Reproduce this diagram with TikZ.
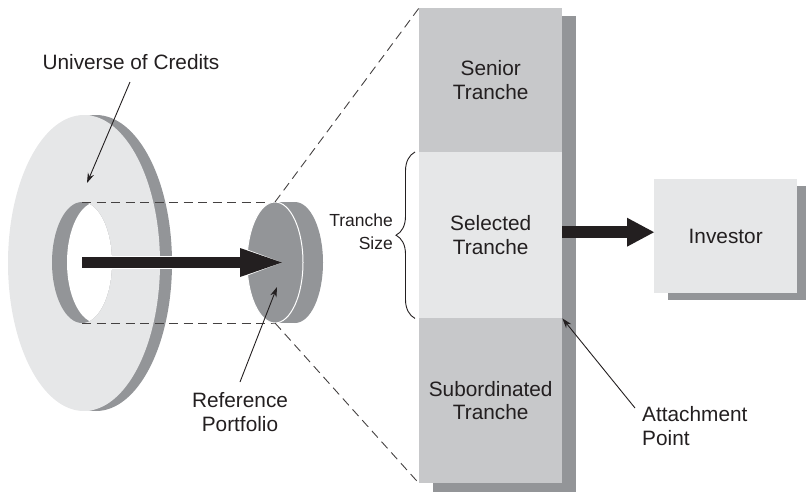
\documentclass[tikz,border=0pt]{standalone}
\usepackage{fontspec}
\setmainfont{Liberation Sans}
\usetikzlibrary{arrows.meta,decorations.pathreplacing}

\definecolor{facelight}{HTML}{E6E7E8}
\definecolor{facemid}{HTML}{C7C8CA}
\definecolor{facedark}{HTML}{939598}
\definecolor{ink}{HTML}{231F20}

\tikzset{
  lbl/.style={inner sep=0pt, align=center, text=ink, font=\fontsize{20.8}{23.5}\selectfont},
  smalllbl/.style={inner sep=0pt, align=right, text=ink, font=\fontsize{17.5}{23}\selectfont},
  guide/.style={draw=ink!85, line width=0.9pt, dash pattern=on 9pt off 5.5pt},
  ptr/.style={draw=ink, line width=0.9pt, -{Stealth[length=10pt,width=6.5pt]}},
  bigarrow/.style={draw=ink, line width=11pt,
    -{Triangle[length=42pt,width=29pt,line width=0pt]}},
  bigarrowrim/.style={draw=white, line width=13pt,
    -{Triangle[length=44pt,width=33pt,line width=0pt]}},
  outarrow/.style={draw=ink, line width=12pt,
    -{Triangle[length=27pt,width=29pt,line width=0pt]}},
  tranche/.style={lbl, minimum width=143pt, anchor=north west,
    execute at begin node={\rule{0pt}{22pt}}},
  dropshadow/.style={fill=facedark, minimum width=143pt, inner sep=0pt, anchor=north west},
}

\begin{document}
\begin{tikzpicture}[x=1pt, y=-1pt]
\useasboundingbox (0,0) rectangle (806,491);
\clip (0,0) rectangle (806,491);

% universe of credits: a thick washer seen at an angle
\fill[facedark] (96,263) ellipse [x radius=76pt, y radius=148pt];
\fill[facelight] (84,263) ellipse [x radius=76pt, y radius=148pt];
\fill[facedark] (82,262.5) ellipse [x radius=30pt, y radius=60.5pt];
\begin{scope}
  \clip (82,262.5) ellipse [x radius=30pt, y radius=60.5pt];
  \fill[white] (97,262.5) ellipse [x radius=30pt, y radius=60.5pt];
\end{scope}

% key points of the projection
\coordinate (holetop) at (82,202);
\coordinate (holebot) at (82,323);
\coordinate (holec) at (82,262.5);
\coordinate (disctop) at (275,202);
\coordinate (discbot) at (275,323);
\coordinate (disctip) at (282,262.5);

\draw[guide] (holetop) -- (disctop);
\draw[guide] (holebot) -- (discbot);

% reference portfolio: a short cylinder
\fill[facedark] (275,202) rectangle (295,323);
\fill[facedark] (295,262.5) ellipse [x radius=28pt, y radius=60.5pt];
\filldraw[fill=facedark, draw=white, line width=1pt]
  (275,262.5) ellipse [x radius=28pt, y radius=60.5pt];

\draw[bigarrowrim] (holec) -- (disctip);
\draw[bigarrow] (holec) -- (disctip);

% capital structure column
\node[dropshadow, minimum height=476pt] (colshadow) at (433,16) {};
\node[tranche, fill=facemid, minimum height=144pt] (senior) at (419,8) {Senior\\Tranche};
\node[tranche, fill=facelight, minimum height=166pt] (selected) at (419,152) {Selected\\Tranche};
\node[tranche, fill=facemid, minimum height=165pt] (subord) at (419,318) {Subordinated\\Tranche};

\draw[guide] (disctop) -- (senior.north west);
\draw[guide] (discbot) -- (subord.south west);

% tranche size brace
\draw[ink, line width=0.9pt, decorate, decoration={brace, amplitude=19pt}]
  (selected.south west) ++(-4,0) -- ([xshift=-4pt]selected.north west);
\node[smalllbl, anchor=east] (sizelbl) at (393,231.5) {Tranche\\Size};

% investor
\node[dropshadow, minimum height=114pt] (invshadow) at (668,186) {};
\node[lbl, fill=facelight, minimum width=143pt, minimum height=114pt,
  anchor=north west] (investor) at (654,179) {Investor};

\coordinate (outstart) at ([yshift=3pt]selected.east);
\draw[outarrow] (outstart) -- (outstart -| investor.west);

% labels and pointers
\node[lbl] (uclbl) at (131,62) {Universe of Credits};
\coordinate (ucfrom) at (130,82);
\coordinate (ucto) at (87,183);
\draw[ptr] (ucfrom) -- (ucto);

\node[lbl] (rplbl) at (240,412) {Reference\\Portfolio};
\coordinate (rpfrom) at (240,382);
\coordinate (rpto) at (277,287);
\draw[ptr] (rpfrom) -- (rpto);

\node[lbl, align=left, anchor=west] (aplbl) at (642,426) {Attachment\\Point};
\coordinate (apfrom) at (635,408);
\draw[ptr] (apfrom) -- (selected.south east);
\end{tikzpicture}
\end{document}
